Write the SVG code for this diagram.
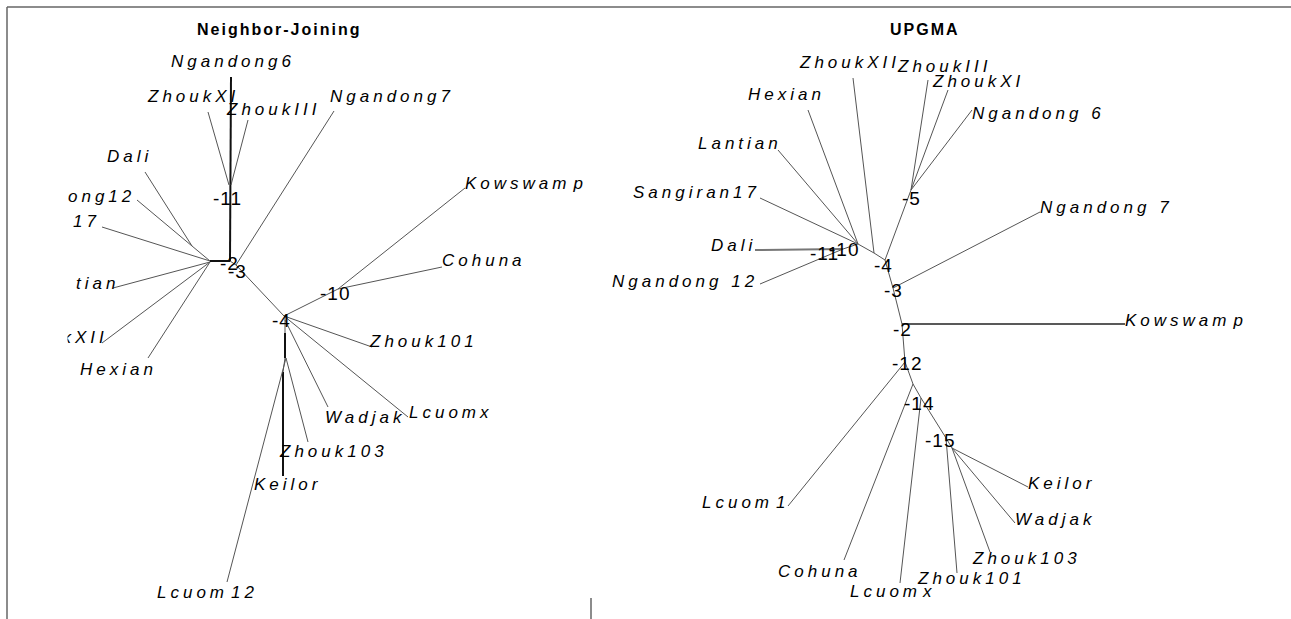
<svg xmlns="http://www.w3.org/2000/svg" width="1291" height="619" viewBox="0 0 1291 619">
<style>
.br{stroke:#555;stroke-width:1;fill:none}
.bk{stroke:#111;stroke-width:2;fill:none}
.gr{stroke:#777;stroke-width:2;fill:none}
.dk{stroke:#222;stroke-width:1.4;fill:none}
.fr{stroke:#666;stroke-width:1.5;fill:none}
.leaf{font-family:"Liberation Sans",Arial,sans-serif;font-style:italic;font-size:17px;letter-spacing:4px;fill:#000}
.nl{font-family:"Liberation Sans",Arial,sans-serif;font-size:19px;letter-spacing:1px;fill:#000}
.title{font-family:"Liberation Sans",Arial,sans-serif;font-weight:bold;font-size:16px;letter-spacing:2px;fill:#000}
</style>
<defs>
<clipPath id="leftclip"><rect x="67.5" y="0" width="524" height="619"/></clipPath>
</defs>
<rect x="0" y="0" width="1291" height="619" fill="#fff"/>
<g id="frame">
<line class="fr" x1="7" y1="7" x2="1291" y2="7"/>
<line class="fr" x1="7" y1="7" x2="7" y2="619"/>
<line class="fr" x1="591" y1="598" x2="591" y2="619"/>
</g>
<g id="titles">
<text class="title" x="197" y="35">Neighbor-Joining</text>
<text class="title" x="890" y="35">UPGMA</text>
</g>
<g id="connectors">
<!-- NJ tree -->
<line class="bk" x1="231" y1="77" x2="230" y2="261"/>
<line class="bk" x1="210" y1="261" x2="230" y2="261"/>
<line class="bk" x1="285" y1="333" x2="285" y2="358"/>
<line class="bk" x1="283" y1="372" x2="283" y2="476"/>
<line class="br" x1="208" y1="112" x2="229" y2="185"/>
<line class="br" x1="248" y1="120" x2="231" y2="185"/>
<line class="br" x1="334" y1="111" x2="236" y2="265"/>
<line class="br" x1="145" y1="172" x2="192" y2="246"/>
<line class="br" x1="137" y1="200" x2="192" y2="246"/>
<line class="br" x1="192" y1="246" x2="210" y2="261"/>
<line class="br" x1="102" y1="227" x2="210" y2="261"/>
<line class="br" x1="113" y1="288" x2="210" y2="262"/>
<line class="br" x1="102" y1="343" x2="210" y2="262"/>
<line class="br" x1="148" y1="358" x2="210" y2="262"/>
<line class="br" x1="230" y1="261" x2="236" y2="265"/>
<line class="br" x1="236" y1="265" x2="284" y2="316"/>
<line class="br" x1="465" y1="188" x2="338" y2="289"/>
<line class="br" x1="442" y1="267" x2="338" y2="289"/>
<line class="br" x1="338" y1="289" x2="284" y2="316"/>
<line class="br" x1="284" y1="316" x2="372" y2="347"/>
<line class="br" x1="284" y1="316" x2="408" y2="417"/>
<line class="br" x1="285" y1="316" x2="285" y2="333"/>
<line class="br" x1="285" y1="320" x2="328" y2="407"/>
<line class="br" x1="286" y1="358" x2="308" y2="442"/>
<line class="br" x1="286" y1="358" x2="227" y2="582"/>
<line class="br" x1="285" y1="358" x2="283" y2="372"/>
<!-- UPGMA tree -->
<line class="br" x1="928" y1="80" x2="911" y2="190"/>
<line class="br" x1="948" y1="90" x2="911" y2="190"/>
<line class="br" x1="972" y1="110" x2="911" y2="190"/>
<line class="br" x1="911" y1="190" x2="885" y2="260"/>
<line class="br" x1="853" y1="78" x2="874" y2="253"/>
<line class="br" x1="808" y1="110" x2="858" y2="244"/>
<line class="br" x1="778" y1="150" x2="858" y2="244"/>
<line class="br" x1="760" y1="198" x2="858" y2="244"/>
<line class="gr" x1="755" y1="250" x2="843" y2="249"/>
<line class="br" x1="760" y1="284" x2="843" y2="249"/>
<line class="br" x1="843" y1="249" x2="858" y2="244"/>
<polyline class="br" points="858,244 874,253 885,260 893,288 902,324 905,362 913,384 921,398 946,438 952,448"/>
<line class="br" x1="1040" y1="212" x2="893" y2="288"/>
<line class="dk" x1="902" y1="324" x2="1125" y2="324"/>
<line class="br" x1="788" y1="506" x2="905" y2="362"/>
<line class="br" x1="844" y1="560" x2="913" y2="384"/>
<line class="br" x1="900" y1="583" x2="921" y2="398"/>
<line class="br" x1="957" y1="573" x2="946" y2="438"/>
<line class="br" x1="990" y1="552" x2="952" y2="448"/>
<line class="br" x1="1015" y1="523" x2="952" y2="448"/>
<line class="br" x1="1028" y1="487" x2="952" y2="448"/>
</g>
<g id="nj-nodes" clip-path="url(#leftclip)">
<g id="nj-ngandong6"><text class="leaf" x="171" y="67">Ngandong6</text></g>
<g id="nj-zhoukxi"><text class="leaf" x="148" y="102">ZhoukXI</text></g>
<g id="nj-zhoukiii"><text class="leaf" x="227" y="115">ZhoukIII</text></g>
<g id="nj-ngandong7"><text class="leaf" x="330" y="102">Ngandong7</text></g>
<g id="nj-dali"><text class="leaf" x="107" y="162">Dali</text></g>
<g id="nj-ngandong12"><text class="leaf" x="68" y="202">ong12</text></g>
<g id="nj-sangiran17"><text class="leaf" x="73" y="227">17</text></g>
<g id="nj-lantian"><text class="leaf" x="76" y="289">tian</text></g>
<g id="nj-zhoukxii"><text class="leaf" x="62.5" y="343">kXII</text></g>
<g id="nj-hexian"><text class="leaf" x="80" y="375">Hexian</text></g>
<g id="nj-kowswamp"><text class="leaf" x="465" y="189">Kowswam<tspan dx="3">p</tspan></text></g>
<g id="nj-cohuna"><text class="leaf" x="442" y="266">Cohuna</text></g>
<g id="nj-zhouk101"><text class="leaf" x="370" y="347">Zhouk101</text></g>
<g id="nj-lcuomx"><text class="leaf" x="409" y="418">Lcuomx</text></g>
<g id="nj-wadjak"><text class="leaf" x="325" y="423">Wadjak</text></g>
<g id="nj-zhouk103"><text class="leaf" x="280" y="457">Zhouk103</text></g>
<g id="nj-keilor"><text class="leaf" x="254" y="490">Keilor</text></g>
<g id="nj-lcuom12"><text class="leaf" x="157" y="598">Lcuom<tspan dx="3">12</tspan></text></g>
<g id="nj-n11"><text class="nl" x="213" y="205">-11</text></g>
<g id="nj-n2"><text class="nl" x="220" y="270">-2</text></g>
<g id="nj-n3"><text class="nl" x="228" y="278">-3</text></g>
<g id="nj-n4"><text class="nl" x="272" y="327">-4</text></g>
<g id="nj-n10"><text class="nl" x="320" y="300">-10</text></g>
</g>
<g id="upgma-nodes">
<g id="up-zhoukxii"><text class="leaf" x="800" y="68">ZhoukXII</text></g>
<g id="up-zhoukiii"><text class="leaf" x="898" y="72">ZhoukIII</text></g>
<g id="up-zhoukxi"><text class="leaf" x="933" y="87">ZhoukXI</text></g>
<g id="up-ngandong6"><text class="leaf" x="972" y="119">Ngandong 6</text></g>
<g id="up-hexian"><text class="leaf" x="748" y="100">Hexian</text></g>
<g id="up-lantian"><text class="leaf" x="698" y="149">Lantian</text></g>
<g id="up-sangiran17"><text class="leaf" x="633" y="198">Sangiran17</text></g>
<g id="up-dali"><text class="leaf" x="711" y="251">Dali</text></g>
<g id="up-ngandong12"><text class="leaf" x="612" y="287">Ngandong 12</text></g>
<g id="up-ngandong7"><text class="leaf" x="1040" y="213">Ngandong 7</text></g>
<g id="up-kowswamp"><text class="leaf" x="1125" y="326">Kowswam<tspan dx="3">p</tspan></text></g>
<g id="up-lcuom1"><text class="leaf" x="702" y="508">Lcuom<tspan dx="3">1</tspan></text></g>
<g id="up-keilor"><text class="leaf" x="1028" y="489">Keilor</text></g>
<g id="up-wadjak"><text class="leaf" x="1015" y="525">Wadjak</text></g>
<g id="up-zhouk103"><text class="leaf" x="973" y="564">Zhouk103</text></g>
<g id="up-zhouk101"><text class="leaf" x="918" y="584">Zhouk101</text></g>
<g id="up-cohuna"><text class="leaf" x="778" y="577">Cohuna</text></g>
<g id="up-lcuomx"><text class="leaf" x="850" y="597">Lcuom<tspan dx="2">x</tspan></text></g>
<g id="up-n5"><text class="nl" x="902" y="205">-5</text></g>
<g id="up-n10"><text class="nl" x="829" y="256">-10</text></g>
<g id="up-n11"><text class="nl" x="810" y="260">-11</text></g>
<g id="up-n4"><text class="nl" x="874" y="272">-4</text></g>
<g id="up-n3"><text class="nl" x="884" y="297">-3</text></g>
<g id="up-n2"><text class="nl" x="893" y="336">-2</text></g>
<g id="up-n12"><text class="nl" x="892" y="370">-12</text></g>
<g id="up-n14"><text class="nl" x="904" y="410">-14</text></g>
<g id="up-n15"><text class="nl" x="925" y="447">-15</text></g>
</g>
</svg>
